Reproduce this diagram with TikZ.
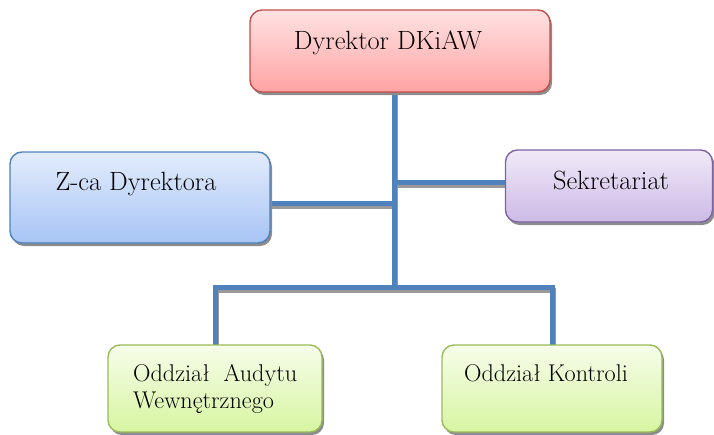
\documentclass[tikz,border=0pt]{standalone}
\usepackage{fontspec}
\usetikzlibrary{shadows,backgrounds}

\definecolor{redline}{HTML}{C0504D}
\definecolor{redtop}{HTML}{FFE2E2}
\definecolor{redbot}{HTML}{FFA3A3}
\definecolor{blueline}{HTML}{4F81BD}
\definecolor{bluetop}{HTML}{E3ECFB}
\definecolor{bluebot}{HTML}{A7C4F5}
\definecolor{purpline}{HTML}{8064A2}
\definecolor{purptop}{HTML}{F0E9F8}
\definecolor{purpbot}{HTML}{CCBAE6}
\definecolor{greenline}{HTML}{9BBB59}
\definecolor{greentop}{HTML}{F6FDEA}
\definecolor{greenbot}{HTML}{D7F5A2}
\definecolor{linkblue}{HTML}{4F81BD}

\tikzset{
  unit/.style={draw, rounded corners=12pt, line width=1.4pt, inner sep=0pt, outer sep=0pt,
    drop shadow={shadow xshift=2pt, shadow yshift=-3pt, fill=black!45, opacity=1}},
  redunit/.style={unit, draw=redline, top color=redtop, bottom color=redbot},
  blueunit/.style={unit, draw=blueline, top color=bluetop, bottom color=bluebot},
  purpunit/.style={unit, draw=purpline, top color=purptop, bottom color=purpbot},
  greenunit/.style={unit, draw=greenline, top color=greentop, bottom color=greenbot},
  bigtext/.style={inner sep=0pt, font=\rmfamily\fontsize{26.4}{31}\selectfont},
  smalltext/.style={inner sep=0pt, font=\rmfamily\fontsize{24.2}{27}\selectfont},
  link/.style={draw=linkblue, line width=5pt, line join=miter},
  linkshade/.style={draw=black!40, line width=5pt, line join=miter,
    transform canvas={xshift=1.5pt, yshift=-3pt}}
}

\begin{document}
\begin{tikzpicture}[x=1pt, y=-1pt]
\useasboundingbox (0,0) rectangle (714,434);

% organisational units
\node[redunit, minimum width=300pt, minimum height=82pt] (dir) at (400,51) {};
\node[blueunit, minimum width=260pt, minimum height=91pt] (zca) at (140,197.5) {};
\node[purpunit, minimum width=207pt, minimum height=72pt] (sek) at (609,186) {};
\node[greenunit, minimum width=214pt, minimum height=87pt] (oa) at (215,388.5) {};
\node[greenunit, minimum width=220pt, minimum height=87pt] (ok) at (552,388.5) {};

% labels
\node[bigtext, anchor=base] (tdir) at (388,49) {Dyrektor DKiAW};
\node[bigtext, anchor=base] (tzca) at (136,190) {Z-ca Dyrektora};
\node[bigtext, anchor=base] (tsek) at (611,189) {Sekretariat};
\node[smalltext, anchor=base] (tok) at (546,381) {Oddział Kontroli};
\node[smalltext, anchor=north west, align=left] (toa) at (133,364.2)
  {\hbox to 164pt{Oddział\hfill Audytu}\\Wewnętrznego};

% junction points on the trunk
\coordinate (jsek) at (394,182);
\coordinate (jzca) at (394,203);
\coordinate (jbar) at (394,287);

\begin{pgfonlayer}{background}
  \foreach \sty in {linkshade, link} {
    \draw[\sty] (dir.south -| jbar) -- (jbar);
    \draw[\sty] (jsek) -- (sek.west |- jsek);
    \draw[\sty] (zca.east |- jzca) -- (jzca);
    \draw[\sty] (oa.north) |- (jbar) -| (ok.north);
  }
\end{pgfonlayer}
\end{tikzpicture}
\end{document}
